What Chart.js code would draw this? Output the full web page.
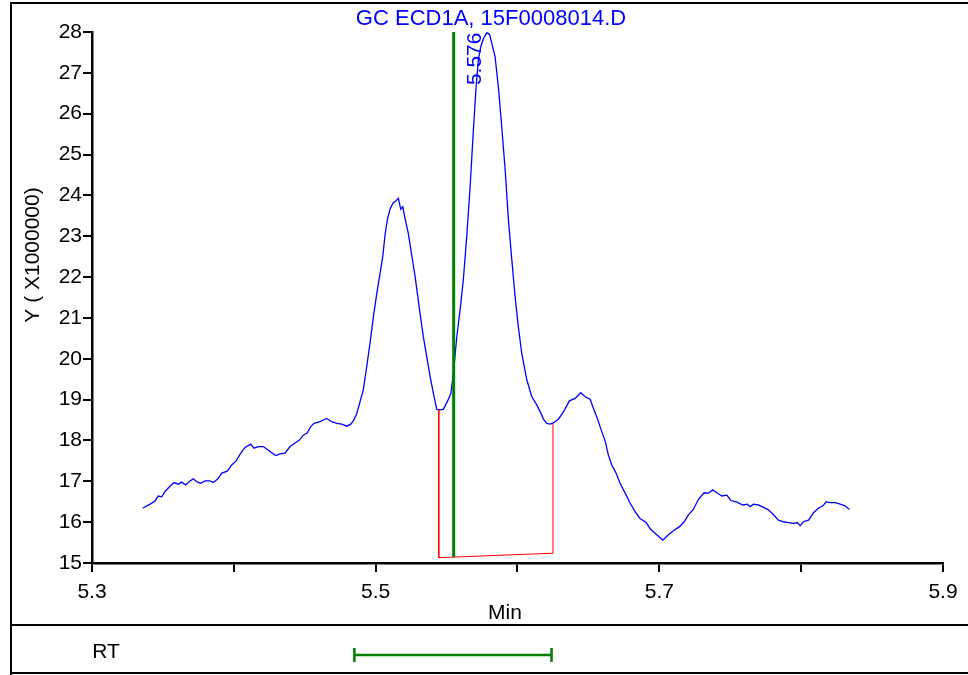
<!DOCTYPE html>
<html>
<head>
<meta charset="utf-8">
<title>GC ECD1A, 15F0008014.D</title>
<script src="https://cdn.jsdelivr.net/npm/chart.js@4.4.1/dist/chart.umd.min.js"></script>
<style>
  body { margin: 0; background: #fff; }
  canvas { display: block; }
</style>
</head>
<body>
<canvas id="chromChart" width="968" height="675"></canvas>
<script>
// retention time (min) and detector signal (x1000000)
var rtTimes = [
  5.3357, 5.3409, 5.3444, 5.3467, 5.3491, 5.3515, 5.3550, 5.3578, 5.3608, 5.3632,
  5.3661, 5.3691, 5.3714, 5.3738, 5.3766, 5.3797, 5.3832, 5.3855, 5.3884, 5.3915,
  5.3954, 5.3985, 5.4016, 5.4049, 5.4079, 5.4119, 5.4142, 5.4173, 5.4208, 5.4236,
  5.4267, 5.4295, 5.4326, 5.4361, 5.4396, 5.4432, 5.4462, 5.4490, 5.4518, 5.4542,
  5.4566, 5.4608, 5.4655, 5.4690, 5.4726, 5.4761, 5.4796, 5.4824, 5.4843, 5.4867,
  5.4890, 5.4913, 5.4937, 5.4960, 5.4984, 5.5008, 5.5031, 5.5050, 5.5066, 5.5082,
  5.5101, 5.5124, 5.5144, 5.5160, 5.5177, 5.5191, 5.5207, 5.5230, 5.5254, 5.5278,
  5.5294, 5.5313, 5.5336, 5.5360, 5.5384, 5.5407, 5.5431, 5.5454, 5.5477, 5.5505,
  5.5530, 5.5548, 5.5572, 5.5595, 5.5618, 5.5642, 5.5666, 5.5689, 5.5708, 5.5724,
  5.5741, 5.5760, 5.5783, 5.5802, 5.5819, 5.5842, 5.5865, 5.5889, 5.5913, 5.5936,
  5.5960, 5.5983, 5.6006, 5.6030, 5.6066, 5.6101, 5.6136, 5.6171, 5.6183, 5.6206,
  5.6230, 5.6253, 5.6288, 5.6324, 5.6366, 5.6406, 5.6446, 5.6477, 5.6512, 5.6535,
  5.6563, 5.6595, 5.6618, 5.6641, 5.6665, 5.6695, 5.6723, 5.6759, 5.6789, 5.6829,
  5.6864, 5.6907, 5.6940, 5.6982, 5.7025, 5.7064, 5.7099, 5.7142, 5.7175, 5.7205,
  5.7240, 5.7276, 5.7316, 5.7346, 5.7377, 5.7405, 5.7441, 5.7476, 5.7504, 5.7547,
  5.7589, 5.7621, 5.7640, 5.7664, 5.7699, 5.7734, 5.7769, 5.7805, 5.7840, 5.7875,
  5.7910, 5.7946, 5.7974, 5.7993, 5.8016, 5.8052, 5.8087, 5.8122, 5.8153, 5.8176,
  5.8204, 5.8240, 5.8275, 5.8310, 5.8340
];
var signal = [
  16.34, 16.44, 16.52, 16.64, 16.62, 16.75, 16.88, 16.97, 16.93, 16.98,
  16.91, 17.01, 17.06, 16.99, 16.95, 17.01, 17.01, 16.97, 17.05, 17.20,
  17.25, 17.40, 17.50, 17.69, 17.83, 17.91, 17.81, 17.85, 17.85, 17.78,
  17.70, 17.63, 17.67, 17.69, 17.85, 17.94, 18.01, 18.13, 18.19, 18.34,
  18.42, 18.46, 18.54, 18.46, 18.42, 18.40, 18.35, 18.40, 18.48, 18.66,
  18.95, 19.24, 19.81, 20.38, 21.03, 21.60, 22.09, 22.50, 23.03, 23.40,
  23.66, 23.82, 23.87, 23.93, 23.66, 23.72, 23.44, 23.07, 22.54, 22.01,
  21.60, 21.11, 20.54, 20.05, 19.56, 19.15, 18.76, 18.75, 18.76, 18.95,
  19.15, 19.64, 20.54, 21.19, 21.93, 22.99, 24.21, 25.60, 26.66, 27.31,
  27.64, 27.84, 27.98, 27.95, 27.72, 27.39, 26.66, 25.68, 24.62, 23.40,
  22.42, 21.52, 20.78, 20.13, 19.48, 19.07, 18.87, 18.62, 18.52, 18.42,
  18.40, 18.43, 18.52, 18.70, 18.97, 19.03, 19.17, 19.07, 19.01, 18.79,
  18.54, 18.21, 17.99, 17.64, 17.40, 17.20, 16.95, 16.71, 16.50, 16.26,
  16.09, 15.99, 15.82, 15.69, 15.56, 15.69, 15.79, 15.89, 16.01, 16.18,
  16.31, 16.56, 16.72, 16.71, 16.79, 16.72, 16.64, 16.66, 16.53, 16.49,
  16.42, 16.44, 16.38, 16.44, 16.42, 16.36, 16.30, 16.18, 16.05, 16.01,
  15.99, 15.97, 15.99, 15.91, 16.01, 16.05, 16.23, 16.34, 16.40, 16.50,
  16.48, 16.48, 16.44, 16.40, 16.31
];

// integration baseline (red box) for the 5.576 peak
var baseTimes = [5.5445, 5.5445, 5.6250, 5.6250];
var baseSignal = [18.75, 15.13, 15.24, 18.40];

// green retention marker and the expected RT window
var markerTimes = [5.5550, 5.5550];
var markerSignal = [15.14, 28];
var rtWindow = [5.4850, 5.6240];
var peakRT = 5.576;

var xLabels = ['5.3', '5.5', '5.7', '5.9'];
var FONT = "'Liberation Sans', Arial, sans-serif";

function toPoints(xs, ys) {
  return xs.map(function(x, i) { return { x: x, y: ys[i] }; });
}

var framePlugin = {
  id: 'frame',
  beforeDraw: function(chart) {
    var c = chart.ctx;
    c.save();
    c.fillStyle = '#fff';
    c.fillRect(0, 0, chart.width, chart.height);
    c.restore();
  },
  afterDraw: function(chart) {
    var c = chart.ctx;
    var xs = chart.scales.x, ys = chart.scales.y;
    c.save();

    // outer box + RT strip
    c.strokeStyle = '#000';
    c.lineWidth = 2;
    c.beginPath();
    c.moveTo(11, 675); c.lineTo(11, 3); c.lineTo(968, 3);
    c.moveTo(11, 625); c.lineTo(968, 625);
    c.moveTo(11, 673); c.lineTo(968, 673);
    c.stroke();

    // title
    c.fillStyle = '#0000ff';
    c.font = '22px ' + FONT;
    c.textAlign = 'center';
    c.textBaseline = 'middle';
    c.fillText('GC ECD1A, 15F0008014.D', 491, 19);

    // peak label, rotated
    c.font = '21px ' + FONT;
    c.save();
    c.translate(xs.getPixelForValue(peakRT) - 2, ys.getPixelForValue(26.7));
    c.rotate(-Math.PI / 2);
    c.textAlign = 'left';
    c.textBaseline = 'alphabetic';
    c.fillText(peakRT.toFixed(3), 0, 0);
    c.restore();

    // axis titles
    c.fillStyle = '#000';
    c.fillText('Min', 505, 613);
    c.save();
    c.translate(33, 255);
    c.rotate(-Math.PI / 2);
    c.fillText('Y ( X1000000)', 0, 0);
    c.restore();
    c.fillText('RT', 106, 652);

    // RT window bar
    var x0 = xs.getPixelForValue(rtWindow[0]);
    var x1 = xs.getPixelForValue(rtWindow[1]);
    c.strokeStyle = '#008000';
    c.lineWidth = 2.5;
    c.beginPath();
    c.moveTo(x0, 655); c.lineTo(x1, 655);
    c.moveTo(x0, 648); c.lineTo(x0, 662);
    c.moveTo(x1, 648); c.lineTo(x1, 662);
    c.stroke();

    c.restore();
  }
};

var ctx = document.getElementById('chromChart').getContext('2d');
var chromChart = new Chart(ctx, {
  type: 'line',
  data: {
    datasets: [{
      label: 'RT marker',
      data: toPoints(markerTimes, markerSignal),
      borderColor: '#008000',
      borderWidth: 3,
      pointRadius: 0
    }, {
      label: 'Baseline',
      data: toPoints(baseTimes, baseSignal),
      borderColor: '#ff0000',
      borderWidth: 1,
      pointRadius: 0
    }, {
      label: 'GC ECD1A',
      data: toPoints(rtTimes, signal),
      borderColor: '#0000ff',
      borderWidth: 1.3,
      pointRadius: 0,
      tension: 0
    }]
  },
  options: {
    responsive: false,
    animation: false,
    devicePixelRatio: 1,
    layout: { padding: { left: 0, top: 32, right: 25, bottom: 0 } },
    plugins: {
      legend: { display: false },
      tooltip: { enabled: false }
    },
    scales: {
      x: {
        type: 'linear',
        min: 5.3,
        max: 5.9,
        afterFit: function(scale) { scale.height = 112; },
        ticks: {
          stepSize: 0.1,
          autoSkip: false,
          maxRotation: 0,
          padding: 8,
          color: '#000',
          font: { family: FONT, size: 21 },
          callback: function(value) {
            var s = Number(value).toFixed(1);
            return xLabels.indexOf(s) >= 0 ? s : '';
          }
        },
        grid: { drawOnChartArea: false, drawTicks: true, tickLength: 9, color: '#000', lineWidth: 2 },
        border: { display: true, color: '#000', width: 2.5 }
      },
      y: {
        min: 15,
        max: 28,
        afterFit: function(scale) { scale.width = 92; },
        ticks: {
          stepSize: 1,
          padding: 1,
          color: '#000',
          font: { family: FONT, size: 21 }
        },
        grid: { drawOnChartArea: false, drawTicks: true, tickLength: 9, color: '#000', lineWidth: 2 },
        border: { display: true, color: '#000', width: 2.5 }
      }
    }
  },
  plugins: [framePlugin]
});
</script>
</body>
</html>
